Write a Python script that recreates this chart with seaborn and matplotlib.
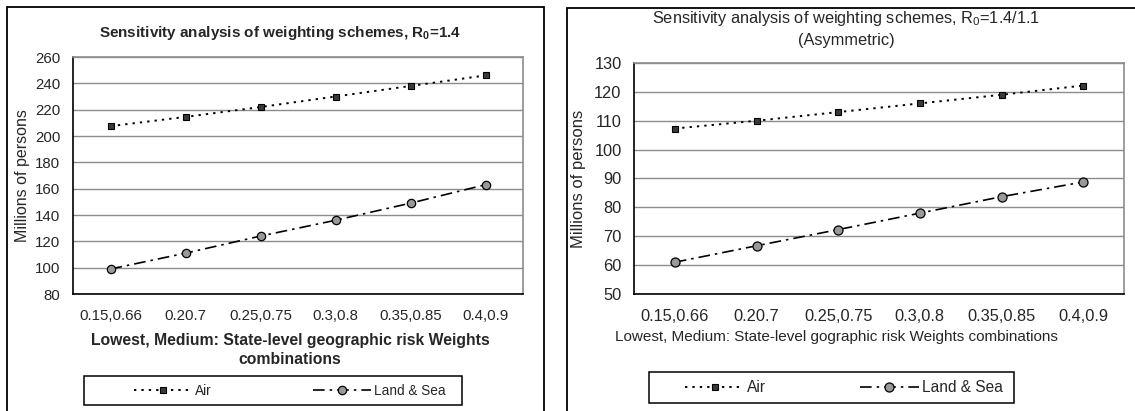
import numpy as np
import pandas as pd
import matplotlib
matplotlib.use("Agg")
import matplotlib.pyplot as plt
from matplotlib.patches import Rectangle
from matplotlib.ticker import FixedLocator
import seaborn as sns

# data
weights = ["0.15,0.66", "0.20.7", "0.25,0.75", "0.3,0.8", "0.35,0.85", "0.4,0.9"]
air_sym = [207.5, 214.5, 222, 230, 238, 246]
land_sym = [99, 111, 124, 136, 149, 163]
air_asym = [107.3, 110, 113, 116, 119, 122.2]
land_asym = [61, 66.7, 72.3, 78, 83.7, 88.8]

sns.set_style("white")
plt.rcParams["font.family"] = ["Liberation Sans", "DejaVu Sans"]
plt.rcParams["mathtext.fontset"] = "custom"
plt.rcParams["mathtext.rm"] = "Liberation Sans"
plt.rcParams["mathtext.bf"] = "Liberation Sans:bold"

W, H = 1135, 411
fig = plt.figure(figsize=(W / 100, H / 100), dpi=100)


def px_box(x0, y0, x1, y1):
    return [x0 / W, 1 - y1 / H, (x1 - x0) / W, (y1 - y0) / H]


# outer frames
fig.patches.append(Rectangle((7 / W, -0.05), (544 - 7) / W, 1.05 - 7 / H,
                             transform=fig.transFigure, fill=False, ec="black", lw=1.3))
fig.patches.append(Rectangle((567 / W, -0.05), (W - 567) / W + 0.05, 1.05 - 8 / H,
                             transform=fig.transFigure, fill=False, ec="black", lw=1.3))

ax1 = fig.add_axes(px_box(73, 57, 523, 294))
ax2 = fig.add_axes(px_box(634, 63, 1124, 294))


def draw(ax, air, land, ylim, step, fs, msq, mci):
    df = pd.DataFrame({"w": weights, "Air": air, "Land & Sea": land})
    sns.lineplot(data=df, x="w", y="Air", ax=ax, sort=False, color="black", lw=1.4,
                 linestyle=(0, (1.2, 2.6)), marker="s", markersize=msq,
                 markerfacecolor="#3a3a3a", markeredgecolor="black", markeredgewidth=0.8,
                 label="Air")
    sns.lineplot(data=df, x="w", y="Land & Sea", ax=ax, sort=False, color="black", lw=1.2,
                 linestyle=(0, (7, 3, 1.5, 3)), marker="o", markersize=mci,
                 markerfacecolor="#999999", markeredgecolor="black", markeredgewidth=0.9,
                 label="Land & Sea")
    ax.set_xlim(-0.5, 5.5)
    ax.set_ylim(*ylim)
    ax.set_yticks(np.arange(ylim[0], ylim[1] + 1, step))
    ax.set_xticks(range(len(weights)))
    ax.set_xticklabels(weights)
    ax.xaxis.set_minor_locator(FixedLocator(np.arange(-0.5, 6, 1)))
    ax.tick_params(axis="x", which="major", length=0, pad=11, labelsize=fs)
    ax.tick_params(axis="x", which="minor", length=5, width=1, direction="out", color="black")
    ax.tick_params(axis="y", length=5, width=1, direction="out", color="black", pad=4, labelsize=fs)
    ax.grid(axis="y", color="#8c8c8c", lw=1)
    ax.set_axisbelow(True)
    for s in ["top", "right"]:
        ax.spines[s].set_color("#8c8c8c")
        ax.spines[s].set_linewidth(1.2)
    for s in ["left", "bottom"]:
        ax.spines[s].set_color("black")
        ax.spines[s].set_linewidth(1.2)
    if ax.legend_:
        ax.legend_.remove()


draw(ax1, air_sym, land_sym, (80, 260), 20, 10.8, 4, 6)
draw(ax2, air_asym, land_asym, (50, 130), 10, 11.8, 4.5, 6.5)

# titles
ax1.set_title(r"Sensitivity analysis of weighting schemes, R$_\mathbf{0}$=1.4",
              fontsize=11, fontweight="bold", x=(280 - 73) / 450, y=1 + 16 / 237, va="center")
ax2.set_title("Sensitivity analysis of weighting schemes, R$_0$=1.4/1.1\n(Asymmetric)",
              fontsize=11.8, x=(846 - 634) / 490, y=1 + 26 / 231, va="center", linespacing=1.45)

# axis labels
ax1.set_xlabel("Lowest, Medium: State-level geographic risk Weights\ncombinations",
               fontsize=11.3, fontweight="bold", va="center", linespacing=1.35)
ax1.xaxis.set_label_coords((290 - 73) / 450, -(350 - 294) / 237)
ax2.set_xlabel("Lowest, Medium: State-level gographic risk Weights combinations",
               fontsize=11, va="center")
ax2.xaxis.set_label_coords((836 - 634) / 490, -(337 - 294) / 231)
ax1.set_ylabel("Millions of persons", fontsize=11.5, va="center")
ax1.yaxis.set_label_coords((23 - 73) / 450, 0.5)
ax2.set_ylabel("Millions of persons", fontsize=12, va="center")
ax2.yaxis.set_label_coords((578 - 634) / 490, 0.5)

# legends with square frames
for ax, box, hx, fs, hl, cs in [(ax1, (84, 376, 462, 405), 134, 9.8, 4.3, 7.4),
                                 (ax2, (649, 372, 1014, 403), 685, 11.2, 3.8, 6.0)]:
    h, l = ax.get_legend_handles_labels()
    fig.legend(h, l, loc="center left", bbox_to_anchor=(hx / W, 1 - (box[1] + box[3]) / 2 / H),
               bbox_transform=fig.transFigure, ncol=2, frameon=False, fontsize=fs,
               handlelength=hl, handletextpad=0.2, columnspacing=cs, borderpad=0,
               borderaxespad=0)
    fig.patches.append(Rectangle((box[0] / W, 1 - box[3] / H), (box[2] - box[0]) / W,
                                 (box[3] - box[1]) / H, transform=fig.transFigure,
                                 fill=False, ec="black", lw=1.1))

fig.savefig("out.png", dpi=100)
